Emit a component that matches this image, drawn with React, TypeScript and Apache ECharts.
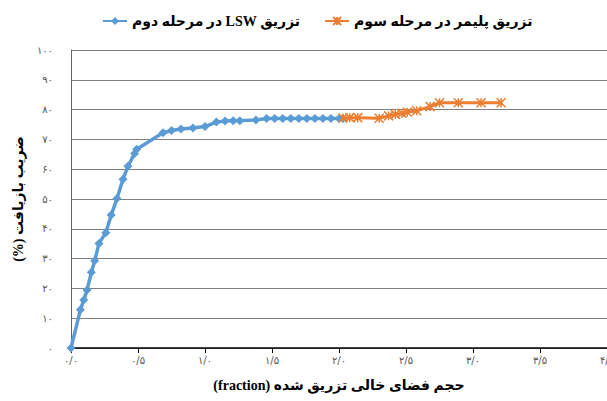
import React, { useEffect, useRef } from "react";
import * as echarts from "echarts";

const legendNames = ["تزریق LSW در مرحله دوم", "تزریق پلیمر در مرحله سوم"];
const xAxisTitle = "حجم فضای خالی تزریق شده (fraction)";
const yAxisTitle = "ضریب بازیافت (%)";

const lswX = [0, 0.07, 0.095, 0.12, 0.152, 0.177, 0.209, 0.26, 0.30, 0.343, 0.388, 0.425, 0.475, 0.49, 0.687, 0.75, 0.82, 0.91, 1.0, 1.085, 1.15, 1.21, 1.26, 1.38, 1.46, 1.52, 1.58, 1.64, 1.70, 1.76, 1.82, 1.88, 1.94, 2.0, 2.03];
const lswY = [0, 12.8, 16.1, 19.5, 25.4, 29.3, 35.1, 38.7, 44.6, 50.2, 56.6, 61, 65.3, 66.7, 72.2, 73.0, 73.5, 73.8, 74.3, 75.8, 76.2, 76.3, 76.3, 76.5, 77, 77, 77, 77, 77, 77, 77, 77, 77, 77, 77];

const polyX = [2.03, 2.08, 2.14, 2.30, 2.37, 2.42, 2.47, 2.51, 2.58, 2.68, 2.75, 2.89, 3.06, 3.21];
const polyY = [77.2, 77.3, 77.3, 77.1, 77.9, 78.4, 78.8, 79.1, 79.6, 81, 82.3, 82.3, 82.3, 82.3];

const persianDigits = "۰۱۲۳۴۵۶۷۸۹";
const toFa = (s: string) => s.replace(/[0-9]/g, (d) => persianDigits[Number(d)]);
const rtl = (s: string) => "\u202B" + s + "\u202C";

const starPath = "path://M0,0L10,10M10,0L0,10M5,0L5,10";

export default function App() {
  const ref = useRef<HTMLDivElement>(null);
  useEffect(() => {
    if (!ref.current) return;
    const chart = echarts.init(ref.current, undefined, { renderer: "svg" });
    const font = "'Liberation Serif', 'DejaVu Sans'";
    const titleStyle = { fontFamily: font, fontWeight: "bold", fontSize: 14, color: "#000" };
    chart.setOption({
      animation: false,
      backgroundColor: "#ffffff",
      legend: {
        left: 97,
        top: 9,
        itemGap: 24,
        itemWidth: 24,
        itemHeight: 10,
        textStyle: titleStyle,
        data: legendNames,
        formatter: (n: string) => rtl(n),
      },
      grid: { left: 71, top: 50, right: 0, bottom: 53, outerBoundsMode: "none", containLabel: false },
      xAxis: {
        type: "value",
        min: 0,
        max: 4,
        interval: 0.5,
        name: rtl(xAxisTitle),
        nameLocation: "middle",
        nameGap: 30,
        nameTextStyle: titleStyle,
        axisLine: { lineStyle: { color: "#000", width: 1.5 } },
        axisTick: { show: true, length: 5, lineStyle: { color: "#000" } },
        axisLabel: {
          fontSize: 10,
          color: "#555",
          fontFamily: "'DejaVu Sans'",
          margin: 7,
          formatter: (v: number) => toFa(v.toFixed(1).replace(".", "/")),
        },
        splitLine: { show: false },
      },
      yAxis: {
        type: "value",
        min: 0,
        max: 100,
        interval: 10,
        name: rtl(yAxisTitle),
        nameLocation: "middle",
        nameRotate: 90,
        nameGap: 42,
        nameTextStyle: titleStyle,
        axisLine: { show: true, lineStyle: { color: "#666", width: 1 } },
        axisTick: { show: false },
        axisLabel: {
          fontSize: 10,
          color: "#555",
          fontFamily: "'DejaVu Sans'",
          margin: 18,
          formatter: (v: number) => toFa(String(v)),
        },
        splitLine: { show: true, lineStyle: { color: "#808080", width: 1 } },
      },
      series: [
        {
          name: legendNames[0],
          type: "line",
          data: lswX.map((x, i) => [x, lswY[i]]),
          color: "#5B9BD5",
          lineStyle: { width: 3.5, color: "#5B9BD5" },
          symbol: "diamond",
          symbolSize: 9,
          itemStyle: { color: "#5B9BD5" },
          z: 3,
        },
        {
          name: legendNames[1],
          type: "line",
          data: polyX.map((x, i) => [x, polyY[i]]),
          color: "#ED7D31",
          lineStyle: { width: 3, color: "#ED7D31" },
          symbol: starPath,
          symbolSize: 9,
          itemStyle: { color: "#ED7D31", borderColor: "#ED7D31", borderWidth: 1.5 },
          z: 4,
        },
      ],
    });
    return () => chart.dispose();
  }, []);
  return (
    <div
      ref={ref}
      style={{ position: "fixed", left: 0, top: 0, width: 607, height: 401, background: "#fff" }}
    />
  );
}
